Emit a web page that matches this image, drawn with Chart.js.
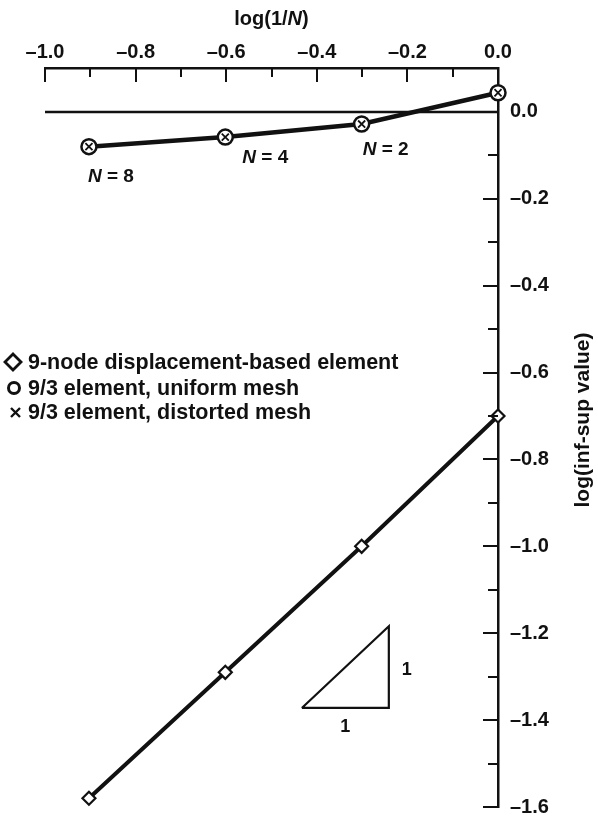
<!DOCTYPE html>
<html>
<head>
<meta charset="utf-8">
<script src="https://cdn.jsdelivr.net/npm/chart.js@4"></script>
<style>
  html, body { margin: 0; padding: 0; background: #fff; }
  #caja { width: 598px; height: 817px; }
</style>
</head>
<body>
<div id="caja"><canvas id="grafica" width="598" height="817"></canvas></div>
<script>
// ===============================
// DATOS
// ===============================

const logInvN = [-0.903, -0.602, -0.301, 0.0];          // log(1/N) para N = 8, 4, 2, 1
const etiquetasN = ["8", "4", "2"];                    // etiquetas N = ... de los tres primeros puntos
const desplazamiento9 = [-1.58, -1.29, -1.00, -0.70];   // elemento de 9 nodos
const uniforme93 = [-0.080, -0.058, -0.028, 0.044];     // 9/3 malla uniforme
const distorsionada93 = [-0.080, -0.058, -0.028, 0.044]; // 9/3 malla distorsionada

const ticksX = [-1.0, -0.8, -0.6, -0.4, -0.2, 0.0];
const ticksXMenores = [-0.9, -0.7, -0.5, -0.3, -0.1];
const ticksY = [0.0, -0.2, -0.4, -0.6, -0.8, -1.0, -1.2, -1.4, -1.6];
const ticksYMenores = [-0.1, -0.3, -0.5, -0.7, -0.9, -1.1, -1.3, -1.5];

// triángulo de pendiente 1:1
const trianguloX = [-0.433, -0.241, -0.241, -0.433];
const trianguloY = [-1.372, -1.372, -1.184, -1.372];

const nombresSeries = [
  "9-node displacement-based element",
  "9/3 element, uniform mesh",
  "9/3 element, distorted mesh"
];

// ===============================
// UTILIDADES
// ===============================

const FUENTE = "'Liberation Sans', Arial, Helvetica, sans-serif";
const NEGRO = "#111";

function puntos(xs, ys) {
  return xs.map(function (x, i) { return { x: x, y: ys[i] }; });
}

function formatoTick(valor) {
  const v = Math.round(valor * 10) / 10;
  if (v === 0) return "0.0";
  return (v < 0 ? "\u2013" : "") + Math.abs(v).toFixed(1);
}

// escribe un texto con una parte en cursiva, centrado en (cx, cy)
function textoMixto(ctx, partes, cx, cy, tam) {
  let ancho = 0;
  partes.forEach(function (p) {
    ctx.font = (p.it ? "italic " : "") + "bold " + tam + "px " + FUENTE;
    p.w = ctx.measureText(p.t).width;
    ancho += p.w;
  });
  let x0 = cx - ancho / 2;
  ctx.textAlign = "left";
  ctx.textBaseline = "middle";
  partes.forEach(function (p) {
    ctx.font = (p.it ? "italic " : "") + "bold " + tam + "px " + FUENTE;
    ctx.fillText(p.t, x0, cy);
    x0 += p.w;
  });
}

// ===============================
// PLUGIN: marcas hacia dentro, textos, leyenda
// ===============================

const decoraciones = {
  id: "decoraciones",
  afterDraw(chart) {
    const { ctx, chartArea } = chart;
    const x = chart.scales.x;
    const y = chart.scales.y;

    ctx.save();
    ctx.strokeStyle = NEGRO;
    ctx.fillStyle = NEGRO;
    ctx.lineWidth = 2;

    // marcas del eje superior
    function marcaX(v, largo) {
      const px = Math.round(x.getPixelForValue(v));
      ctx.beginPath();
      ctx.moveTo(px, chartArea.top);
      ctx.lineTo(px, chartArea.top + largo);
      ctx.stroke();
    }
    ticksX.forEach(function (v) { marcaX(v, 14); });
    ticksXMenores.forEach(function (v) { marcaX(v, 9); });

    // marcas del eje derecho
    function marcaY(v, largo) {
      const py = Math.round(y.getPixelForValue(v));
      ctx.beginPath();
      ctx.moveTo(chartArea.right, py);
      ctx.lineTo(chartArea.right - largo, py);
      ctx.stroke();
    }
    ticksY.forEach(function (v) { marcaY(v, 15); });
    ticksYMenores.forEach(function (v) { marcaY(v, 10); });

    // título del eje superior
    const centroX = (chartArea.left + chartArea.right) / 2;
    textoMixto(ctx, [{ t: "log(1/" }, { t: "N", it: true }, { t: ")" }], centroX, 19, 20);

    // etiquetas N = ...
    const desfases = [[22, 30], [40, 21], [24, 26]];
    etiquetasN.forEach(function (n, i) {
      const px = x.getPixelForValue(logInvN[i]) + desfases[i][0];
      const py = y.getPixelForValue(uniforme93[i]) + desfases[i][1];
      textoMixto(ctx, [{ t: "N", it: true }, { t: " = " + n }], px, py, 19);
    });

    // números "1" del triángulo
    ctx.font = "bold 18px " + FUENTE;
    ctx.textAlign = "center";
    ctx.textBaseline = "middle";
    const bx = (x.getPixelForValue(trianguloX[0]) + x.getPixelForValue(trianguloX[1])) / 2;
    ctx.fillText("1", bx, y.getPixelForValue(trianguloY[0]) + 19);
    const ry = (y.getPixelForValue(trianguloY[1]) + y.getPixelForValue(trianguloY[2])) / 2;
    ctx.fillText("1", x.getPixelForValue(trianguloX[1]) + 18, ry + 3);

    // título del eje vertical (leído de abajo hacia arriba)
    ctx.save();
    ctx.translate(583, 420);
    ctx.rotate(-Math.PI / 2);
    ctx.font = "bold 21px " + FUENTE;
    ctx.textAlign = "center";
    ctx.fillText("log(inf-sup value)", 0, 0);
    ctx.restore();

    // leyenda
    const filas = [362, 388, 412];
    ctx.font = "bold 21.5px " + FUENTE;
    ctx.textAlign = "left";
    nombresSeries.forEach(function (nombre, i) {
      const cy = filas[i];
      ctx.lineWidth = 2.8;
      if (i === 0) {
        ctx.beginPath();
        ctx.moveTo(13, cy - 8);
        ctx.lineTo(21, cy);
        ctx.lineTo(13, cy + 8);
        ctx.lineTo(5, cy);
        ctx.closePath();
        ctx.stroke();
      } else if (i === 1) {
        ctx.lineWidth = 3;
        ctx.beginPath();
        ctx.arc(14, cy, 5.5, 0, Math.PI * 2);
        ctx.stroke();
      } else {
        ctx.lineWidth = 2.4;
        ctx.beginPath();
        ctx.moveTo(11, cy - 4);
        ctx.lineTo(20, cy + 5);
        ctx.moveTo(20, cy - 4);
        ctx.lineTo(11, cy + 5);
        ctx.stroke();
      }
      ctx.fillText(nombre, 28, cy + 1);
    });

    ctx.restore();
  }
};

// ===============================
// GRÁFICA
// ===============================

const ctx = document.getElementById("grafica").getContext("2d");

const grafica = new Chart(ctx, {
  type: "scatter",
  data: {
    datasets: [
      {
        label: nombresSeries[2],
        data: puntos(logInvN, distorsionada93),
        showLine: false,
        pointStyle: "crossRot",
        pointRadius: 5,
        pointBorderWidth: 1.8,
        pointBorderColor: NEGRO,
        clip: false
      },
      {
        label: nombresSeries[1],
        data: puntos(logInvN, uniforme93),
        showLine: true,
        borderColor: NEGRO,
        borderWidth: 4.5,
        pointStyle: "circle",
        pointRadius: 7.5,
        pointBorderWidth: 2.5,
        pointBorderColor: NEGRO,
        pointBackgroundColor: "#fff",
        clip: false
      },
      {
        label: nombresSeries[0],
        data: puntos(logInvN, desplazamiento9),
        showLine: true,
        borderColor: NEGRO,
        borderWidth: 4,
        pointStyle: "rectRot",
        pointRadius: 6.5,
        pointBorderWidth: 2.2,
        pointBorderColor: NEGRO,
        pointBackgroundColor: "#fff",
        clip: false
      },
      {
        label: "",
        data: puntos([ticksX[0], ticksX[ticksX.length - 1]], [0, 0]),
        showLine: true,
        borderColor: NEGRO,
        borderWidth: 2.5,
        pointRadius: 0
      },
      {
        label: "",
        data: puntos(trianguloX, trianguloY),
        showLine: true,
        borderColor: NEGRO,
        borderWidth: 2.2,
        pointRadius: 0,
        clip: false
      }
    ]
  },
  options: {
    responsive: false,
    animation: false,
    devicePixelRatio: 1,
    layout: {
      padding: { left: 45, top: 6, right: 40, bottom: 10 }
    },
    plugins: {
      legend: { display: false },
      tooltip: { enabled: false }
    },
    scales: {
      x: {
        type: "linear",
        position: "top",
        min: -1.0,
        max: 0.0,
        afterBuildTicks: function (escala) {
          escala.ticks = ticksX.map(function (v) { return { value: v }; });
        },
        afterFit: function (escala) {
          escala.height = 62;
          escala.paddingLeft = 0;
          escala.paddingRight = 0;
        },
        grid: { display: false, drawTicks: false },
        border: { display: true, color: NEGRO, width: 2.5 },
        ticks: {
          padding: 4,
          maxRotation: 0,
          color: NEGRO,
          font: { family: FUENTE, size: 20, weight: "bold" },
          callback: function (v) { return formatoTick(v); }
        },
        title: { display: false }
      },
      y: {
        type: "linear",
        position: "right",
        min: -1.6,
        max: 0.101,
        afterBuildTicks: function (escala) {
          escala.ticks = ticksY.map(function (v) { return { value: v }; });
        },
        afterFit: function (escala) {
          escala.width = 60;
          escala.paddingTop = 0;
          escala.paddingBottom = 0;
        },
        grid: { display: false, drawTicks: false },
        border: { display: true, color: NEGRO, width: 2.5 },
        ticks: {
          padding: 12,
          color: NEGRO,
          font: { family: FUENTE, size: 20, weight: "bold" },
          callback: function (v) { return formatoTick(v); }
        }
      }
    }
  },
  plugins: [decoraciones]
});
</script>
</body>
</html>
